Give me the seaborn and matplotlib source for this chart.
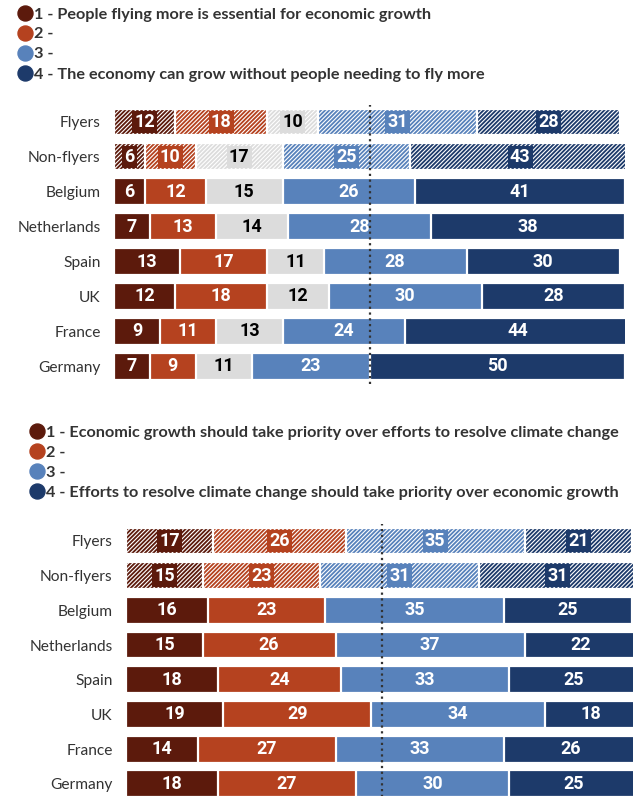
import matplotlib
matplotlib.use("Agg")
import matplotlib.pyplot as plt
from matplotlib.lines import Line2D
import numpy as np
import pandas as pd
import seaborn as sns

# ---- data -------------------------------------------------------------
categories = ["Flyers", "Non-flyers", "Belgium", "Netherlands", "Spain", "UK", "France", "Germany"]
hatched_rows = ["Flyers", "Non-flyers"]

# Flying and economic growth (1..4 plus a neutral middle answer)
fly_1 = [12, 6, 6, 7, 13, 12, 9, 7]
fly_2 = [18, 10, 12, 13, 17, 18, 11, 9]
fly_neutral = [10, 17, 15, 14, 11, 12, 13, 11]
fly_3 = [31, 25, 26, 28, 28, 30, 24, 23]
fly_4 = [28, 43, 41, 38, 30, 28, 44, 50]

# Economic growth vs climate change (1..4)
climate_1 = [17, 15, 16, 15, 18, 19, 14, 18]
climate_2 = [26, 23, 23, 26, 24, 29, 27, 27]
climate_3 = [35, 31, 35, 37, 33, 34, 33, 30]
climate_4 = [21, 31, 25, 22, 25, 18, 26, 25]

fly_legend = [
    "1 - People flying more is essential for economic growth",
    "2 -",
    "3 -",
    "4 - The economy can grow without people needing to fly more",
]
climate_legend = [
    "1 - Economic growth should take priority over efforts to resolve climate change",
    "2 -",
    "3 -",
    "4 - Efforts to resolve climate change should take priority over economic growth",
]

# ---- style ------------------------------------------------------------
DARK_RED = "#5c1a0c"
RED = "#b5421f"
GREY = "#dcdcdc"
LIGHT_BLUE = "#5882bb"
DARK_BLUE = "#1d3a6a"
TEXT = "#333333"

sns.set_style("white")
plt.rcParams["font.family"] = ["Lato", "DejaVu Sans"]
plt.rcParams["hatch.linewidth"] = 0.8

W, H = 633, 796
fig = plt.figure(figsize=(W / 100, H / 100), dpi=100)

PX_PER_UNIT = 5.11


def add_panel(left_px, top_px, row_px):
    height_px = row_px * len(categories)
    width_px = 100 * PX_PER_UNIT + 3
    return fig.add_axes([left_px / W, 1 - (top_px + height_px) / H,
                         width_px / W, height_px / H])


def draw_stacked(ax, segments, colors, text_colors):
    seg = np.array(segments, dtype=float)
    cum = np.cumsum(seg, axis=0)
    # draw cumulative totals from the longest to the shortest so the
    # shorter bars sit on top and show as stacked segments
    for k in reversed(range(len(seg))):
        df = pd.DataFrame({"category": categories, "value": cum[k]})
        sns.barplot(data=df, x="value", y="category", order=categories,
                    orient="h", color=colors[k], saturation=1, width=0.77,
                    edgecolor="white", linewidth=1.6, errorbar=None,
                    ax=ax, zorder=2)
        for patch, cat in zip(ax.containers[-1], categories):
            if cat in hatched_rows:
                patch.set_hatch("////////")

    lefts = cum - seg
    for k in range(len(seg)):
        for i, cat in enumerate(categories):
            v = seg[k, i]
            box = None
            if cat in hatched_rows:
                box = dict(boxstyle="square,pad=0.12", facecolor=colors[k],
                           edgecolor="none")
            ax.text(lefts[k, i] + v / 2, i, f"{int(v)}", ha="center",
                    va="center", color=text_colors[k], fontsize=13,
                    fontweight="bold", family=["Roboto", "DejaVu Sans"],
                    bbox=box, zorder=3)

    ax.axvline(50, color=TEXT, linestyle=(0, (1, 1.6)), linewidth=1.6, zorder=4)
    ax.set_xlim(-3 / PX_PER_UNIT, 100)
    ax.set_ylim(len(categories) - 0.5, -0.5)
    ax.set_xlabel("")
    ax.set_ylabel("")
    ax.set_xticks([])
    sns.despine(ax=ax, left=True, bottom=True)
    ax.tick_params(axis="y", length=5, width=1, color="#d0d0d0", pad=2.5,
                   labelsize=11.2, labelcolor=TEXT)


def draw_legend(labels, colors, x_dot, x_text, y_first, step):
    for j, (lab, col) in enumerate(zip(labels, colors)):
        y = 1 - (y_first + j * step) / H
        fig.add_artist(Line2D([x_dot / W], [y], marker="o", markersize=10.8,
                              color=col, linestyle="", transform=fig.transFigure))
        fig.text(x_text / W, y, lab, ha="left", va="center_baseline",
                 fontsize=11.7, fontweight="bold", color=TEXT)


legend_colors = [DARK_RED, RED, LIGHT_BLUE, DARK_BLUE]

# ---- top panel --------------------------------------------------------
draw_legend(fly_legend, legend_colors, 25, 34, 13, 20)
ax_top = add_panel(111, 104.5, 34.9)
draw_stacked(ax_top, [fly_1, fly_2, fly_neutral, fly_3, fly_4],
             [DARK_RED, RED, GREY, LIGHT_BLUE, DARK_BLUE],
             ["white", "white", "black", "white", "white"])

# ---- bottom panel -----------------------------------------------------
draw_legend(climate_legend, legend_colors, 37, 46, 431, 20)
ax_bot = add_panel(123, 523.6, 34.7)
draw_stacked(ax_bot, [climate_1, climate_2, climate_3, climate_4],
             [DARK_RED, RED, LIGHT_BLUE, DARK_BLUE],
             ["white", "white", "white", "white"])

fig.savefig("out.png", dpi=100)
